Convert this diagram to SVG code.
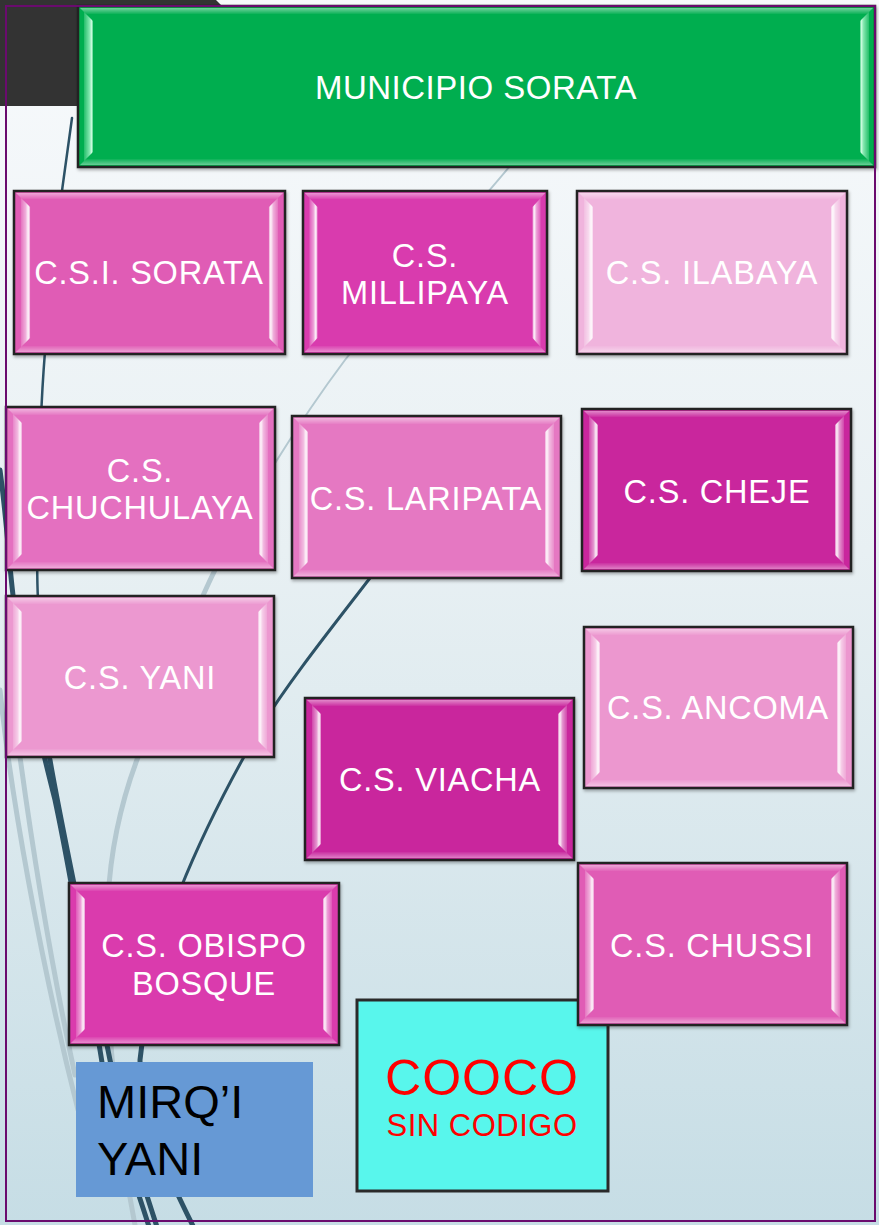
<svg xmlns="http://www.w3.org/2000/svg" xmlns:xlink="http://www.w3.org/1999/xlink" width="879" height="1225" viewBox="0 0 879 1225">
  <defs>
    <linearGradient id="bg" x1="0" y1="0" x2="0" y2="1">
      <stop offset="0" stop-color="#f8fafc"/>
      <stop offset="0.45" stop-color="#e8f0f3"/>
      <stop offset="1" stop-color="#c6dde5"/>
    </linearGradient>
    <linearGradient id="gL" x1="0" y1="0" x2="1" y2="0">
      <stop offset="0" stop-color="#fff" stop-opacity="0.15"/>
      <stop offset="0.5" stop-color="#fff" stop-opacity="0.5"/>
      <stop offset="0.8" stop-color="#fff" stop-opacity="0.95"/>
      <stop offset="1" stop-color="#fff" stop-opacity="0.45"/>
    </linearGradient>
    <linearGradient id="gR" x1="1" y1="0" x2="0" y2="0">
      <stop offset="0" stop-color="#fff" stop-opacity="0.15"/>
      <stop offset="0.5" stop-color="#fff" stop-opacity="0.5"/>
      <stop offset="0.8" stop-color="#fff" stop-opacity="0.95"/>
      <stop offset="1" stop-color="#fff" stop-opacity="0.45"/>
    </linearGradient>
    <linearGradient id="gT" x1="0" y1="0" x2="0" y2="1">
      <stop offset="0" stop-color="#fff" stop-opacity="0.45"/>
      <stop offset="1" stop-color="#fff" stop-opacity="0.05"/>
    </linearGradient>
    <linearGradient id="gB" x1="0" y1="1" x2="0" y2="0">
      <stop offset="0" stop-color="#fff" stop-opacity="0.4"/>
      <stop offset="1" stop-color="#fff" stop-opacity="0.05"/>
    </linearGradient>
    <linearGradient id="gGL" x1="0" y1="0" x2="1" y2="0">
      <stop offset="0" stop-color="#b8ffd6" stop-opacity="0.2"/>
      <stop offset="0.6" stop-color="#b8ffd6" stop-opacity="0.7"/>
      <stop offset="0.85" stop-color="#d8ffe8" stop-opacity="0.95"/>
      <stop offset="1" stop-color="#b8ffd6" stop-opacity="0.4"/>
    </linearGradient>
    <linearGradient id="gGR" x1="1" y1="0" x2="0" y2="0">
      <stop offset="0" stop-color="#b8ffd6" stop-opacity="0.2"/>
      <stop offset="0.6" stop-color="#b8ffd6" stop-opacity="0.7"/>
      <stop offset="0.85" stop-color="#d8ffe8" stop-opacity="0.95"/>
      <stop offset="1" stop-color="#b8ffd6" stop-opacity="0.4"/>
    </linearGradient>
    <filter id="sh" x="-5%" y="-5%" width="112%" height="115%">
      <feDropShadow dx="1" dy="2" stdDeviation="1.5" flood-color="#000" flood-opacity="0.3"/>
    </filter>
    <symbol id="bev" viewBox="0 0 270 162" preserveAspectRatio="none">
      <polygon points="2,2 268,2 262,8 8,8" fill="url(#gT)"/>
      <polygon points="2,160 268,160 262,154 8,154" fill="url(#gB)"/>
      <polygon points="7,7 16,16 16,146 7,155" fill="url(#gL)"/>
      <polygon points="263,7 254,16 254,146 263,155" fill="url(#gR)"/>
    </symbol>
    <style>
      .box { stroke: #222; stroke-width: 2.5; filter: url(#sh); }
      .t { font-family: "Liberation Sans", Arial, sans-serif; font-size: 32.5px; letter-spacing: 0.8px; fill: #fff; text-anchor: middle; }
      .dk { fill: none; stroke: #2d5266; stroke-linecap: round; }
      .lt { fill: none; stroke: #b4c8d0; stroke-linecap: round; }
    </style>
  </defs>

  <rect x="0" y="0" width="879" height="1225" fill="url(#bg)"/>
  <polygon points="0,0 216,0 223,7 223,106 0,106" fill="#333333"/>

  <g id="background-curves">
    <path class="lt" stroke-width="2" d="M515,160 C470,215 400,290 345,360 C300,420 250,500 215,570"/>
    <path class="lt" stroke-width="5" d="M215,570 C190,620 160,700 138,757 C118,810 110,860 108,900 C105,980 110,1100 135,1225"/>
    <path class="lt" stroke-width="5" d="M20,757 C30,830 50,960 75,1075"/>
    <path class="lt" stroke-width="5" d="M0,690 C10,790 40,960 78,1110"/>
    <path class="dk" stroke-width="2.5" d="M72,118 C60,200 44,330 41,420 C38,520 36,560 38,600"/>
    <path class="dk" stroke-width="5" d="M38,600 C38,680 40,720 50,760 C62,830 90,960 110,1060 C125,1130 145,1190 158,1230"/>
    <path class="dk" stroke-width="5" d="M0,470 C8,530 10,580 15,610 C25,680 40,740 55,800 C70,870 85,960 100,1050 C110,1120 135,1180 150,1230"/>
    <path class="dk" stroke-width="3" d="M370,578 C330,630 290,680 262,725 C230,780 200,840 180,890"/>
    <path class="dk" stroke-width="5" d="M180,890 C160,950 145,1010 140,1060 C140,1120 170,1180 195,1230"/>
  </g>

  <g id="municipio-sorata">
    <rect class="box" x="78" y="6" width="797" height="161" fill="#00ae4f"/>
    <polygon points="80,8 873,8 867,14 86,14" fill="url(#gT)"/>
    <polygon points="80,165 873,165 867,159 86,159" fill="url(#gB)"/>
    <polygon points="84,12 93,21 93,152 84,161" fill="url(#gGL)"/>
    <polygon points="869,12 860,21 860,152 869,161" fill="url(#gGR)"/>
    <text class="t" x="476" y="99" style="font-size:33px;letter-spacing:0.5px">MUNICIPIO SORATA</text>
  </g>

  <g id="csi-sorata">
    <rect class="box" x="14" y="191" width="271" height="163" fill="#e05bb5"/>
    <use xlink:href="#bev" x="14" y="191" width="271" height="163"/>
    <text class="t" x="149" y="284">C.S.I. SORATA</text>
  </g>
  <g id="cs-millipaya">
    <rect class="box" x="303" y="191" width="244" height="163" fill="#d93aae"/>
    <use xlink:href="#bev" x="303" y="191" width="244" height="163"/>
    <text class="t" x="425" y="267">C.S.</text>
    <text class="t" x="425" y="304">MILLIPAYA</text>
  </g>
  <g id="cs-ilabaya">
    <rect class="box" x="577" y="191" width="270" height="163" fill="#f0b4dd"/>
    <use xlink:href="#bev" x="577" y="191" width="270" height="163"/>
    <text class="t" x="712" y="284">C.S. ILABAYA</text>
  </g>
  <g id="cs-chuchulaya">
    <rect class="box" x="6" y="407" width="269" height="163" fill="#e470c0"/>
    <use xlink:href="#bev" x="6" y="407" width="269" height="163"/>
    <text class="t" x="140" y="482">C.S.</text>
    <text class="t" x="140" y="519">CHUCHULAYA</text>
  </g>
  <g id="cs-laripata">
    <rect class="box" x="292" y="416" width="269" height="162" fill="#e578c2"/>
    <use xlink:href="#bev" x="292" y="416" width="269" height="162"/>
    <text class="t" x="426" y="510">C.S. LARIPATA</text>
  </g>
  <g id="cs-cheje">
    <rect class="box" x="582" y="409" width="269" height="162" fill="#c9279d"/>
    <use xlink:href="#bev" x="582" y="409" width="269" height="162"/>
    <text class="t" x="717" y="503">C.S. CHEJE</text>
  </g>
  <g id="cs-yani">
    <rect class="box" x="6" y="596" width="268" height="161" fill="#ec98d0"/>
    <use xlink:href="#bev" x="6" y="596" width="268" height="161"/>
    <text class="t" x="140" y="689">C.S. YANI</text>
  </g>
  <g id="cs-ancoma">
    <rect class="box" x="584" y="627" width="269" height="161" fill="#ec97cf"/>
    <use xlink:href="#bev" x="584" y="627" width="269" height="161"/>
    <text class="t" x="718" y="719">C.S. ANCOMA</text>
  </g>
  <g id="cs-viacha">
    <rect class="box" x="305" y="698" width="269" height="162" fill="#c9279d"/>
    <use xlink:href="#bev" x="305" y="698" width="269" height="162"/>
    <text class="t" x="440" y="791">C.S. VIACHA</text>
  </g>
  <g id="cs-obispo-bosque">
    <rect class="box" x="69" y="883" width="270" height="162" fill="#da3bad"/>
    <use xlink:href="#bev" x="69" y="883" width="270" height="162"/>
    <text class="t" x="204" y="957">C.S. OBISPO</text>
    <text class="t" x="204" y="995">BOSQUE</text>
  </g>
  <g id="cooco">
    <rect x="357" y="1000" width="251" height="191" fill="#58f6ec" stroke="#2a2a2a" stroke-width="3"/>
    <text x="482" y="1095" font-family="'Liberation Sans', Arial, sans-serif" font-size="50" letter-spacing="1" fill="#ff0000" text-anchor="middle">COOCO</text>
    <text x="482" y="1136" font-family="'Liberation Sans', Arial, sans-serif" font-size="31" letter-spacing="0.5" fill="#ff0000" text-anchor="middle">SIN CODIGO</text>
  </g>
  <g id="cs-chussi">
    <rect class="box" x="578" y="863" width="269" height="162" fill="#e05bb5"/>
    <use xlink:href="#bev" x="578" y="863" width="269" height="162"/>
    <text class="t" x="712" y="957">C.S. CHUSSI</text>
  </g>
  <g id="mirqi-yani">
    <rect x="76" y="1062" width="237" height="135" fill="#6699d5"/>
    <text x="97" y="1118" font-family="'Liberation Sans', Arial, sans-serif" font-size="47" fill="#000">MIRQ’I</text>
    <text x="97" y="1175" font-family="'Liberation Sans', Arial, sans-serif" font-size="47" fill="#000">YANI</text>
  </g>

  <rect x="6" y="6" width="869" height="1215" fill="none" stroke="#6a0b6e" stroke-width="2"/>
</svg>
